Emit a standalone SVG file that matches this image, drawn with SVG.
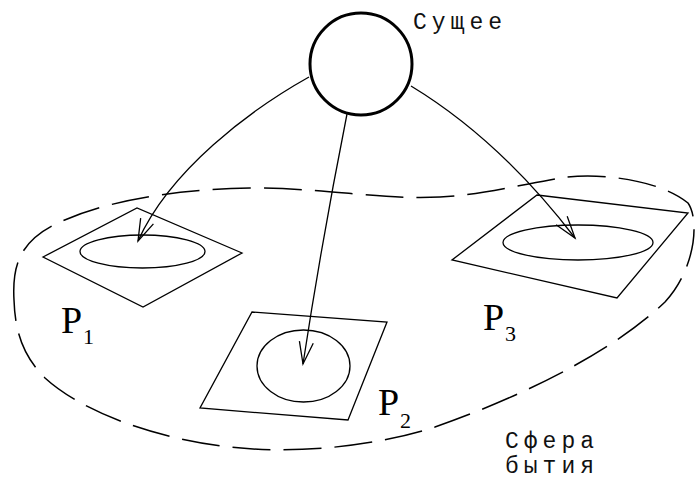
<svg xmlns="http://www.w3.org/2000/svg" width="695" height="486" viewBox="0 0 695 486">
<defs>
<style>
.ln{fill:none;stroke:#000;stroke-width:1.3}
.sphere{fill:none;stroke:#000;stroke-width:1.5;stroke-dasharray:38 13}
.mono{font-family:"Liberation Mono","DejaVu Sans Mono",monospace;font-size:23px;letter-spacing:5px;fill:#111}
.serif{font-family:"Liberation Serif","Times New Roman",serif;fill:#000}
.big{font-size:38px}
.sub{font-size:22px}
</style>
<marker id="arr" markerUnits="userSpaceOnUse" markerWidth="30" markerHeight="20" viewBox="-24 -10 26 20" refX="0" refY="0" orient="auto">
<path d="M -22,-7 L 0,0 L -22,7" fill="none" stroke="#000" stroke-width="1.3"/>
</marker>
</defs>
<rect width="695" height="486" fill="#fff"/>
<g id="sphere">
<path class="sphere" d="M 14,300 C 12,265 20,240 60,222 C 100,204 160,190 250,188 C 330,188 380,200 440,197 C 480,195 520,185 560,178 C 600,172 660,180 688,203 C 700,220 695,270 665,302 C 620,345 540,390 435,427 C 380,445 300,455 230,447 C 150,438 80,410 45,378 C 22,355 15,330 14,300 Z"/>
<text class="mono" x="505" y="448">Сфера</text>
<text class="mono" x="505" y="473">бытия</text>
</g>
<g id="being">
<circle cx="361" cy="64" r="51" fill="#fff" stroke="#000" stroke-width="3"/>
<text class="mono" x="413" y="29">Сущее</text>
</g>
<g id="P1">
<polygon class="ln" points="43,257 137,208 242,253 143,307"/>
<ellipse class="ln" cx="142.5" cy="251.5" rx="62.5" ry="16.5"/>
<text class="serif big" x="61" y="333">P</text>
<text class="serif sub" x="83" y="344">1</text>
</g>
<g id="P2">
<polygon class="ln" points="252,312 387,322 348,420 200,408"/>
<ellipse class="ln" cx="303.5" cy="366" rx="46.5" ry="36"/>
<text class="serif big" x="378" y="415">P</text>
<text class="serif sub" x="400" y="428">2</text>
</g>
<g id="P3">
<polygon class="ln" points="537,195 688,213 617,298 452,260"/>
<ellipse class="ln" cx="578" cy="242.5" rx="75" ry="17.5"/>
<text class="serif big" x="483" y="330">P</text>
<text class="serif sub" x="505" y="341">3</text>
</g>
<g id="connectors">
<path class="ln" d="M 309,77 C 250,110 170,170 138,241" marker-end="url(#arr)"/>
<path class="ln" d="M 347,114 Q 322,240 303,364" marker-end="url(#arr)"/>
<path class="ln" d="M 411,86 Q 500,140 575,238" marker-end="url(#arr)"/>
</g>
</svg>
